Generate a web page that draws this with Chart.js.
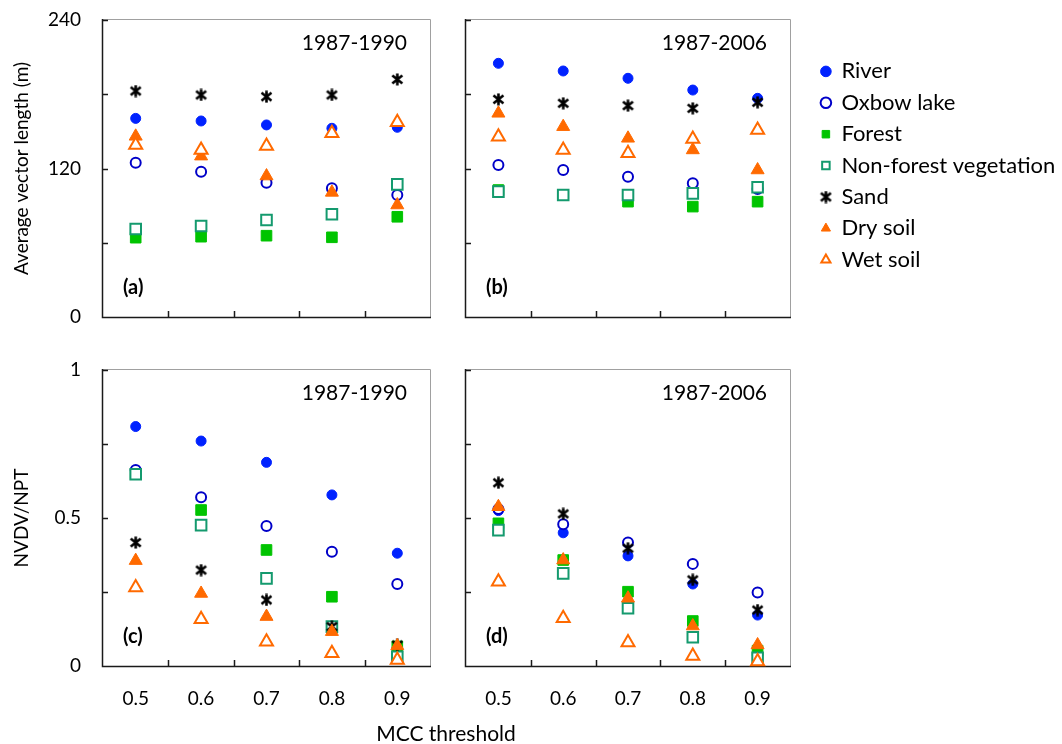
<!DOCTYPE html>
<html>
<head>
<meta charset="utf-8">
<script src="https://cdn.jsdelivr.net/npm/chart.js@4.4.0/dist/chart.umd.min.js"></script>
<style>
  html, body { margin: 0; padding: 0; background: #fff; }
  body { width: 1062px; height: 744px; position: relative; overflow: hidden; font-family: Lato, sans-serif; }
  canvas.panel { position: absolute; left: 0; top: 0; }
  #legend { position: absolute; left: 812px; top: 51px; }
  .xtitle { position: absolute; left: 296px; width: 300px; top: 720px; line-height: 26px; text-align: center; font-size: 21px; color: #000; }
</style>
</head>
<body>
<canvas class="panel" id="panelA" width="1062" height="744"></canvas>
<canvas class="panel" id="panelB" width="1062" height="744"></canvas>
<canvas class="panel" id="panelC" width="1062" height="744"></canvas>
<canvas class="panel" id="panelD" width="1062" height="744"></canvas>
<canvas id="legend" width="250" height="240"></canvas>
<div class="xtitle">MCC threshold</div>
<script>
const thresholds = ['0.5', '0.6', '0.7', '0.8', '0.9']
const seriesNames = ['River', 'Oxbow lake', 'Forest', 'Non-forest vegetation', 'Sand', 'Dry soil', 'Wet soil']

// rows follow seriesNames
const lengthA = [
    [160.5, 158.4, 155.2, 152.5, 153.3],
    [124.7, 117.4, 108.5, 104.0, 98.6],
    [64.1, 64.9, 65.7, 64.4, 81.0],
    [71.1, 73.5, 78.4, 83.0, 107.2],
    [182.6, 179.4, 178.0, 179.4, 192.0],
    [146.0, 130.0, 113.9, 100.7, 90.5],
    [139.0, 135.0, 138.2, 148.4, 157.3]
]
const lengthB = [
    [205.0, 198.8, 192.9, 183.4, 176.7],
    [122.8, 118.8, 113.4, 108.0, 103.4],
    [102.6, 98.6, 93.2, 89.2, 93.2],
    [101.3, 98.6, 98.6, 99.9, 104.8],
    [175.9, 172.7, 170.8, 168.6, 173.5],
    [164.6, 153.8, 144.4, 135.0, 118.8],
    [145.7, 135.0, 132.3, 143.8, 151.1]
]
const ratioC = [
    [0.809, 0.760, 0.688, 0.578, 0.381],
    [0.662, 0.570, 0.473, 0.386, 0.277],
    [0.648, 0.527, 0.392, 0.234, 0.066],
    [0.648, 0.476, 0.296, 0.133, 0.031],
    [0.417, 0.324, 0.223, 0.133, 0.071],
    [0.356, 0.245, 0.167, 0.116, 0.068],
    [0.265, 0.158, 0.082, 0.043, 0.020]
]
const ratioD = [
    [0.525, 0.450, 0.372, 0.277, 0.172],
    [0.530, 0.479, 0.417, 0.345, 0.248],
    [0.482, 0.358, 0.251, 0.152, 0.052],
    [0.459, 0.313, 0.195, 0.097, 0.028],
    [0.619, 0.514, 0.398, 0.291, 0.189],
    [0.538, 0.358, 0.229, 0.135, 0.071],
    [0.285, 0.161, 0.079, 0.034, 0.015]
]

const lengthTicks = [0, 120, 240]
const ratioTicks = [0, 0.5, 1]

function starMarker(size){
    const c = document.createElement('canvas')
    c.width = size
    c.height = size
    const ctx = c.getContext('2d')
    ctx.strokeStyle = '#000'
    ctx.lineWidth = 2.6
    ctx.beginPath()
    ctx.moveTo(1.5, 2.5); ctx.lineTo(size - 1.5, size - 2.5)
    ctx.moveTo(size - 1.5, 2.5); ctx.lineTo(1.5, size - 2.5)
    ctx.moveTo(size / 2, 0.5); ctx.lineTo(size / 2, size - 0.5)
    ctx.stroke()
    return c
}
const sandIcon = starMarker(13)

const markers = [
    {pointStyle: 'circle', radius: 5, fill: '#0022ff', line: '#0022ff', width: 1},
    {pointStyle: 'circle', radius: 5, fill: '#ffffff', line: '#0000c8', width: 2},
    {pointStyle: 'rect', radius: 7.5, fill: '#00c400', line: '#00c400', width: 1},
    {pointStyle: 'rect', radius: 7.5, fill: '#ffffff', line: '#149a6e', width: 2},
    {pointStyle: sandIcon, radius: 6, fill: '#000000', line: '#000000', width: 1},
    {pointStyle: 'triangle', radius: 7.5, fill: '#ff6a00', line: '#ff6a00', width: 1},
    {pointStyle: 'triangle', radius: 7.5, fill: '#ffffff', line: '#ff6a00', width: 2}
]

function makeDatasets(rows){
    return rows.map((row, i) => ({
        label: seriesNames[i],
        data: row,
        showLine: false,
        order: rows.length - i,
        clip: false,
        pointStyle: markers[i].pointStyle,
        pointRadius: markers[i].radius,
        pointHoverRadius: markers[i].radius,
        pointBackgroundColor: markers[i].fill,
        pointBorderColor: markers[i].line,
        pointBorderWidth: markers[i].width,
        backgroundColor: markers[i].fill,
        borderColor: markers[i].line,
        borderWidth: markers[i].width
    }))
}

const panelFrame = {
    id: 'panelFrame',
    beforeDatasetsDraw(chart, args, opts){
        const {ctx, chartArea: a, scales: {x, y}} = chart
        ctx.save()
        ctx.lineWidth = 1
        ctx.strokeStyle = '#a0a0a0'
        ctx.beginPath()
        ctx.moveTo(a.left, a.top - 0.5)
        ctx.lineTo(a.right + 0.5, a.top - 0.5)
        ctx.lineTo(a.right + 0.5, a.bottom)
        ctx.stroke()
        ctx.strokeStyle = '#1a1a1a'
        ctx.lineWidth = 1.5
        ctx.beginPath()
        ctx.moveTo(a.left - 0.5, a.top - 1)
        ctx.lineTo(a.left - 0.5, a.bottom + 0.5)
        ctx.lineTo(a.right + 1, a.bottom + 0.5)
        y.ticks.forEach(t => {
            const py = Math.round(y.getPixelForValue(t.value)) + 0.5
            ctx.moveTo(a.left, py)
            ctx.lineTo(a.left + 5, py)
        })
        for(let i = 1; i < x.ticks.length; i++){
            const px = Math.round((x.getPixelForValue(i - 1) + x.getPixelForValue(i)) / 2) + 0.5
            ctx.moveTo(px, a.bottom)
            ctx.lineTo(px, a.bottom - 6)
        }
        ctx.stroke()
        ctx.restore()
    },
    afterDraw(chart, args, opts){
        const {ctx, chartArea: a} = chart
        ctx.save()
        ctx.fillStyle = '#000'
        ctx.textBaseline = 'middle'
        ctx.font = '21px Lato'
        ctx.textAlign = 'right'
        ctx.fillText(opts.period, a.right - 23, a.top + 23)
        ctx.font = 'bold 20px Lato'
        ctx.textAlign = 'left'
        ctx.fillText(opts.tag, a.left + 20, a.bottom - 29)
        ctx.restore()
    }
}

function makePanel(id, rect, rows, yMax, yStep, labelled, title, xLabels, period, tag){
    const yw = labelled ? rect.left : 10
    const xh = xLabels ? 60 : 10
    const shown = yMax > 2 ? lengthTicks : ratioTicks
    return new Chart(document.getElementById(id), {
        type: 'line',
        data: {labels: thresholds, datasets: makeDatasets(rows)},
        plugins: [panelFrame],
        options: {
            responsive: false,
            animation: false,
            events: [],
            layout: {padding: {left: rect.left - yw, top: rect.top, right: 1062 - rect.right, bottom: 744 - rect.bottom - xh}},
            scales: {
                x: {
                    type: 'category',
                    offset: true,
                    grid: {display: false, drawTicks: true, tickLength: 19, color: 'rgba(0,0,0,0)'},
                    border: {display: false},
                    ticks: {display: xLabels, padding: 2, color: '#000', font: {family: 'Lato', size: 19}},
                    afterFit: s => { s.height = xh }
                },
                y: {
                    min: 0,
                    max: yMax,
                    grid: {display: false, drawTicks: true, tickLength: 20, color: 'rgba(0,0,0,0)'},
                    border: {display: false},
                    ticks: {
                        display: labelled,
                        stepSize: yStep,
                        padding: 2,
                        color: '#000',
                        font: {family: 'Lato', size: 19},
                        callback: v => shown.includes(v) ? String(v) : ''
                    },
                    title: {display: !!title, text: title || '', color: '#000', font: {family: 'Lato', size: 19}, padding: {top: 10, bottom: 0}},
                    afterFit: s => { s.width = yw }
                }
            },
            plugins: {
                legend: {display: false},
                tooltip: {enabled: false},
                panelFrame: {period: period, tag: tag}
            }
        }
    })
}

makePanel('panelA', {left: 103, top: 20, right: 430, bottom: 317}, lengthA, 240, 60, true, 'Average vector length (m)', false, '1987-1990', '(a)')
makePanel('panelB', {left: 466, top: 20, right: 790, bottom: 317}, lengthB, 240, 60, false, null, false, '1987-2006', '(b)')
makePanel('panelC', {left: 103, top: 370, right: 430, bottom: 666}, ratioC, 1, 0.25, true, 'NVDV/NPT', true, '1987-1990', '(c)')
makePanel('panelD', {left: 466, top: 370, right: 790, bottom: 666}, ratioD, 1, 0.25, false, null, true, '1987-2006', '(d)')

new Chart(document.getElementById('legend'), {
    type: 'line',
    data: {labels: [], datasets: makeDatasets(seriesNames.map(() => [])).map(d => Object.assign(d, {order: 0}))},
    options: {
        responsive: false,
        animation: false,
        events: [],
        scales: {x: {display: false}, y: {display: false}},
        plugins: {
            tooltip: {enabled: false},
            legend: {
                position: 'left',
                align: 'start',
                maxWidth: 248,
                labels: {usePointStyle: true, boxWidth: 9, boxHeight: 7.5, padding: 9.4, color: '#000', font: {family: 'Lato', size: 22}}
            }
        }
    }
})
</script>
</body>
</html>
